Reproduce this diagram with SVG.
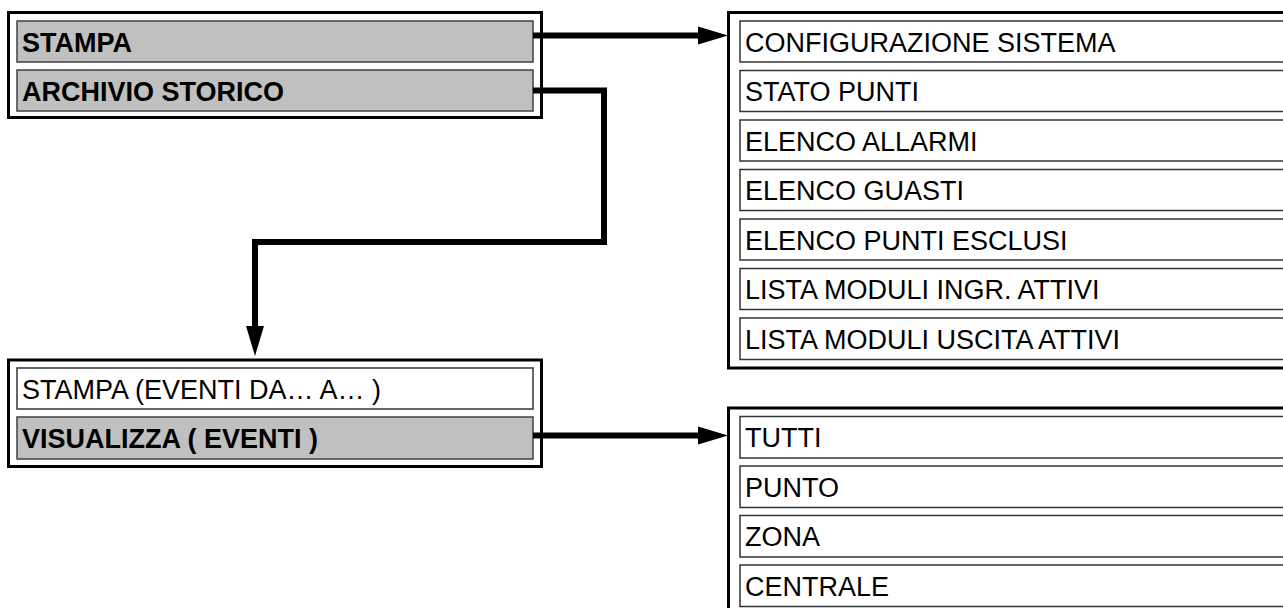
<svg xmlns="http://www.w3.org/2000/svg" width="1283" height="608" viewBox="0 0 1283 608">
<style>
.outer{fill:#fff;stroke:#000;stroke-width:3}
.g{fill:#c0c0c0;stroke:#404040;stroke-width:1.5}
.w{fill:#fff;stroke:#333;stroke-width:1.5}
.tb{font-family:"Liberation Sans",Arial,sans-serif;font-size:27px;font-weight:bold;fill:#000}
.tr{font-family:"Liberation Sans",Arial,sans-serif;font-size:27px;fill:#000}
.c{fill:none;stroke:#000;stroke-width:6;stroke-linejoin:miter}
</style>
<defs>
<marker id="ah" markerUnits="userSpaceOnUse" markerWidth="30" markerHeight="20" viewBox="0 -10 30 20" refX="0" refY="0" orient="auto">
<path d="M0,-9 L30,0 L0,9 Z" fill="#000"/>
</marker>
</defs>
<rect width="1283" height="608" fill="#fff"/>

<g id="menu-main">
<rect class="outer" x="8.5" y="12.5" width="533" height="105"/>
<rect class="g" x="17" y="21" width="516" height="41"/>
<text class="tb" x="22" y="51.5">STAMPA</text>
<rect class="g" x="17" y="70" width="516" height="41"/>
<text class="tb" x="22" y="100.5">ARCHIVIO STORICO</text>
</g>

<g id="menu-stampa">
<rect class="outer" x="728.5" y="12.5" width="600" height="355.5"/>
<rect class="w" x="740" y="21" width="600" height="41"/>
<text class="tr" x="745" y="51.5">CONFIGURAZIONE SISTEMA</text>
<rect class="w" x="740" y="70.5" width="600" height="41"/>
<text class="tr" x="745" y="101">STATO PUNTI</text>
<rect class="w" x="740" y="120" width="600" height="41"/>
<text class="tr" x="745" y="150.5">ELENCO ALLARMI</text>
<rect class="w" x="740" y="169.5" width="600" height="41"/>
<text class="tr" x="745" y="200">ELENCO GUASTI</text>
<rect class="w" x="740" y="219" width="600" height="41"/>
<text class="tr" x="745" y="249.5">ELENCO PUNTI ESCLUSI</text>
<rect class="w" x="740" y="268.5" width="600" height="41"/>
<text class="tr" x="745" y="299">LISTA MODULI INGR. ATTIVI</text>
<rect class="w" x="740" y="318" width="600" height="41.5"/>
<text class="tr" x="745" y="348.5">LISTA MODULI USCITA ATTIVI</text>
</g>

<g id="menu-archivio">
<rect class="outer" x="8.5" y="360" width="533" height="106.5"/>
<rect class="w" x="17" y="368" width="516" height="41"/>
<text class="tr" x="22" y="398.5">STAMPA (EVENTI DA… A… )</text>
<rect class="g" x="17" y="417" width="516" height="42"/>
<text class="tb" x="22" y="447.5">VISUALIZZA ( EVENTI )</text>
</g>

<g id="menu-visualizza">
<rect class="outer" x="728.5" y="408" width="600" height="250"/>
<rect class="w" x="740" y="416.5" width="600" height="41.5"/>
<text class="tr" x="745" y="447">TUTTI</text>
<rect class="w" x="740" y="466" width="600" height="41.5"/>
<text class="tr" x="745" y="496.5">PUNTO</text>
<rect class="w" x="740" y="515.5" width="600" height="41.5"/>
<text class="tr" x="745" y="546">ZONA</text>
<rect class="w" x="740" y="565" width="600" height="41.5"/>
<text class="tr" x="745" y="595.5">CENTRALE</text>
</g>

<g id="connectors">
<path class="c" d="M533,35.5 H698" marker-end="url(#ah)"/>
<path class="c" d="M533,90.5 H604 V242 H255 V326" marker-end="url(#ah)"/>
<path class="c" d="M533,435.5 H698" marker-end="url(#ah)"/>
</g>
</svg>
